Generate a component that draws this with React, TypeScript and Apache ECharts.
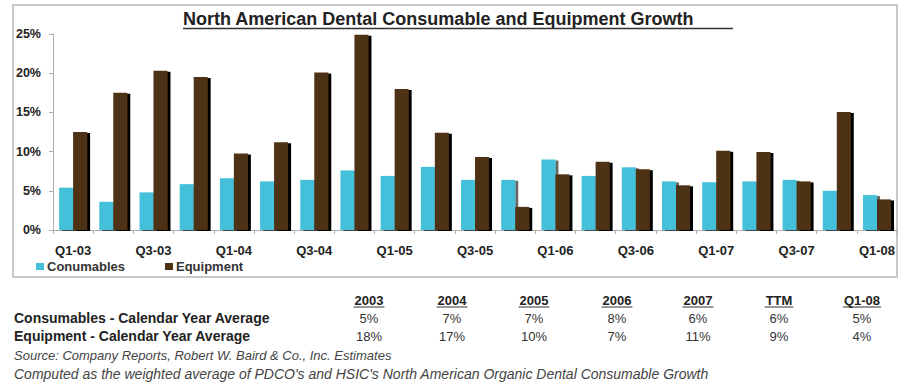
import React, { useEffect, useRef } from "react";
import * as echarts from "echarts";

const quarters = [
  "Q1-03", "Q2-03", "Q3-03", "Q4-03",
  "Q1-04", "Q2-04", "Q3-04", "Q4-04",
  "Q1-05", "Q2-05", "Q3-05", "Q4-05",
  "Q1-06", "Q2-06", "Q3-06", "Q4-06",
  "Q1-07", "Q2-07", "Q3-07", "Q4-07",
  "Q1-08",
];
const consumables = [5.4, 3.6, 4.8, 5.85, 6.6, 6.2, 6.4, 7.6, 6.9, 8.05, 6.4, 6.4, 9.0, 6.9, 8.0, 6.2, 6.1, 6.2, 6.4, 5.0, 4.45];
const equipment = [12.5, 17.5, 20.3, 19.5, 9.75, 11.2, 20.1, 24.9, 18.0, 12.4, 9.3, 2.95, 7.1, 8.7, 7.75, 5.7, 10.1, 9.95, 6.2, 15.05, 3.9];

const tableCols = ["2003", "2004", "2005", "2006", "2007", "TTM", "Q1-08"];
const consAvg = ["5%", "7%", "7%", "8%", "6%", "6%", "5%"];
const equipAvg = ["18%", "17%", "10%", "7%", "11%", "9%", "4%"];
const rowLabels = ["Consumables - Calendar Year Average", "Equipment - Calendar Year Average"];

const titleText = "North American Dental Consumable and Equipment Growth";
const sourceText = "Source: Company Reports, Robert W. Baird & Co., Inc. Estimates";
const noteText = "Computed as the weighted average of PDCO's and HSIC's North American Organic Dental Consumable Growth";

const FONT = "'Liberation Sans', Arial, sans-serif";
const CYAN = "#45c0da";
const BROWN = "#4e3214";

function measure(text: string, font: string): number {
  const c = document.createElement("canvas").getContext("2d");
  if (!c) return text.length * 7;
  c.font = font;
  return c.measureText(text).width;
}

export default function App() {
  const ref = useRef<HTMLDivElement>(null);
  useEffect(() => {
    if (!ref.current) return;
    const chart = echarts.init(ref.current, null, { renderer: "svg" });

    const colX = [369, 452, 534, 617, 698, 779, 862];
    const graphics: any[] = [];
    graphics.push({
      type: "rect",
      shape: { x: 13, y: 5, width: 884, height: 272 },
      style: { fill: "none", stroke: "#c8c8c8", lineWidth: 2 },
      silent: true,
    });
    graphics.push({
      type: "text",
      x: 183,
      y: 19,
      style: {
        text: titleText,
        font: `bold 18px ${FONT}`,
        fill: "#222",
        textVerticalAlign: "middle",
        textAlign: "left",
      },
    });
    graphics.push({
      type: "line",
      shape: { x1: 183, y1: 28.5, x2: 733, y2: 28.5 },
      style: { stroke: "#333", lineWidth: 1.5 },
    });
    tableCols.forEach((c, i) => {
      const w = measure(c, `bold 13px ${FONT}`);
      graphics.push({
        type: "text",
        x: colX[i],
        y: 300,
        style: { text: c, font: `bold 13px ${FONT}`, fill: "#222", textAlign: "center", textVerticalAlign: "middle" },
      });
      graphics.push({
        type: "line",
        shape: { x1: colX[i] - w / 2 - 1, y1: 307, x2: colX[i] + w / 2 + 1, y2: 307 },
        style: { stroke: "#333", lineWidth: 1 },
      });
      graphics.push({
        type: "text",
        x: colX[i],
        y: 318,
        style: { text: consAvg[i], font: `13px ${FONT}`, fill: "#333", textAlign: "center", textVerticalAlign: "middle" },
      });
      graphics.push({
        type: "text",
        x: colX[i],
        y: 336,
        style: { text: equipAvg[i], font: `13px ${FONT}`, fill: "#333", textAlign: "center", textVerticalAlign: "middle" },
      });
    });
    rowLabels.forEach((r, i) => {
      graphics.push({
        type: "text",
        x: 14,
        y: 318 + i * 18,
        style: { text: r, font: `bold 14px ${FONT}`, fill: "#222", textAlign: "left", textVerticalAlign: "middle" },
      });
    });
    graphics.push({
      type: "text",
      x: 14,
      y: 355,
      style: { text: sourceText, font: `italic 13px ${FONT}`, fill: "#444", textAlign: "left", textVerticalAlign: "middle" },
    });
    graphics.push({
      type: "text",
      x: 14,
      y: 374,
      style: { text: noteText, font: `italic 14px ${FONT}`, fill: "#444", textAlign: "left", textVerticalAlign: "middle" },
    });

    const shadow = { shadowColor: "#000", shadowBlur: 0, shadowOffsetX: 3, shadowOffsetY: 1 };

    chart.setOption({
      animation: false,
      textStyle: { fontFamily: FONT },
      grid: { left: 53, top: 34, width: 846, height: 196, containLabel: false },
      legend: {
        left: 31,
        top: 255,
        itemWidth: 8,
        itemHeight: 7,
        itemGap: 40,
        icon: "rect",
        textStyle: { fontFamily: FONT, fontSize: 13, fontWeight: "bold", color: "#333", padding: [0, 0, 0, -2] },
        data: ["Conumables", "Equipment"],
      },
      xAxis: {
        type: "category",
        data: quarters,
        boundaryGap: true,
        axisLine: { show: true, lineStyle: { color: "#b0b0b0", width: 1 } },
        axisTick: { show: true, interval: 0, length: 4, lineStyle: { color: "#b0b0b0" } },
        axisLabel: { interval: 1, margin: 14, fontFamily: FONT, fontSize: 13, fontWeight: "bold", color: "#222" },
        splitLine: { show: false },
      },
      yAxis: {
        type: "value",
        min: 0,
        max: 25,
        interval: 5,
        axisLine: { show: true, lineStyle: { color: "#b0b0b0", width: 1 } },
        axisTick: { show: true, length: 4, lineStyle: { color: "#b0b0b0" } },
        axisLabel: { formatter: "{value}%", margin: 12, fontFamily: FONT, fontSize: 12.5, fontWeight: "bold", color: "#222" },
        splitLine: { show: false },
      },
      series: [
        {
          name: "Conumables",
          type: "bar",
          data: consumables,
          barWidth: 14,
          barGap: "0%",
          itemStyle: { color: CYAN, ...shadow, shadowColor: "rgba(0,0,0,0.6)" },
          z: 2,
        },
        {
          name: "Equipment",
          type: "bar",
          data: equipment,
          barWidth: 14,
          barGap: "0%",
          itemStyle: { color: BROWN, ...shadow },
          z: 3,
        },
      ],
      graphic: graphics,
    });
    return () => chart.dispose();
  }, []);
  return (
    <div
      ref={ref}
      style={{ position: "absolute", left: 0, top: 0, width: 898, height: 390, background: "#fff" }}
    />
  );
}
